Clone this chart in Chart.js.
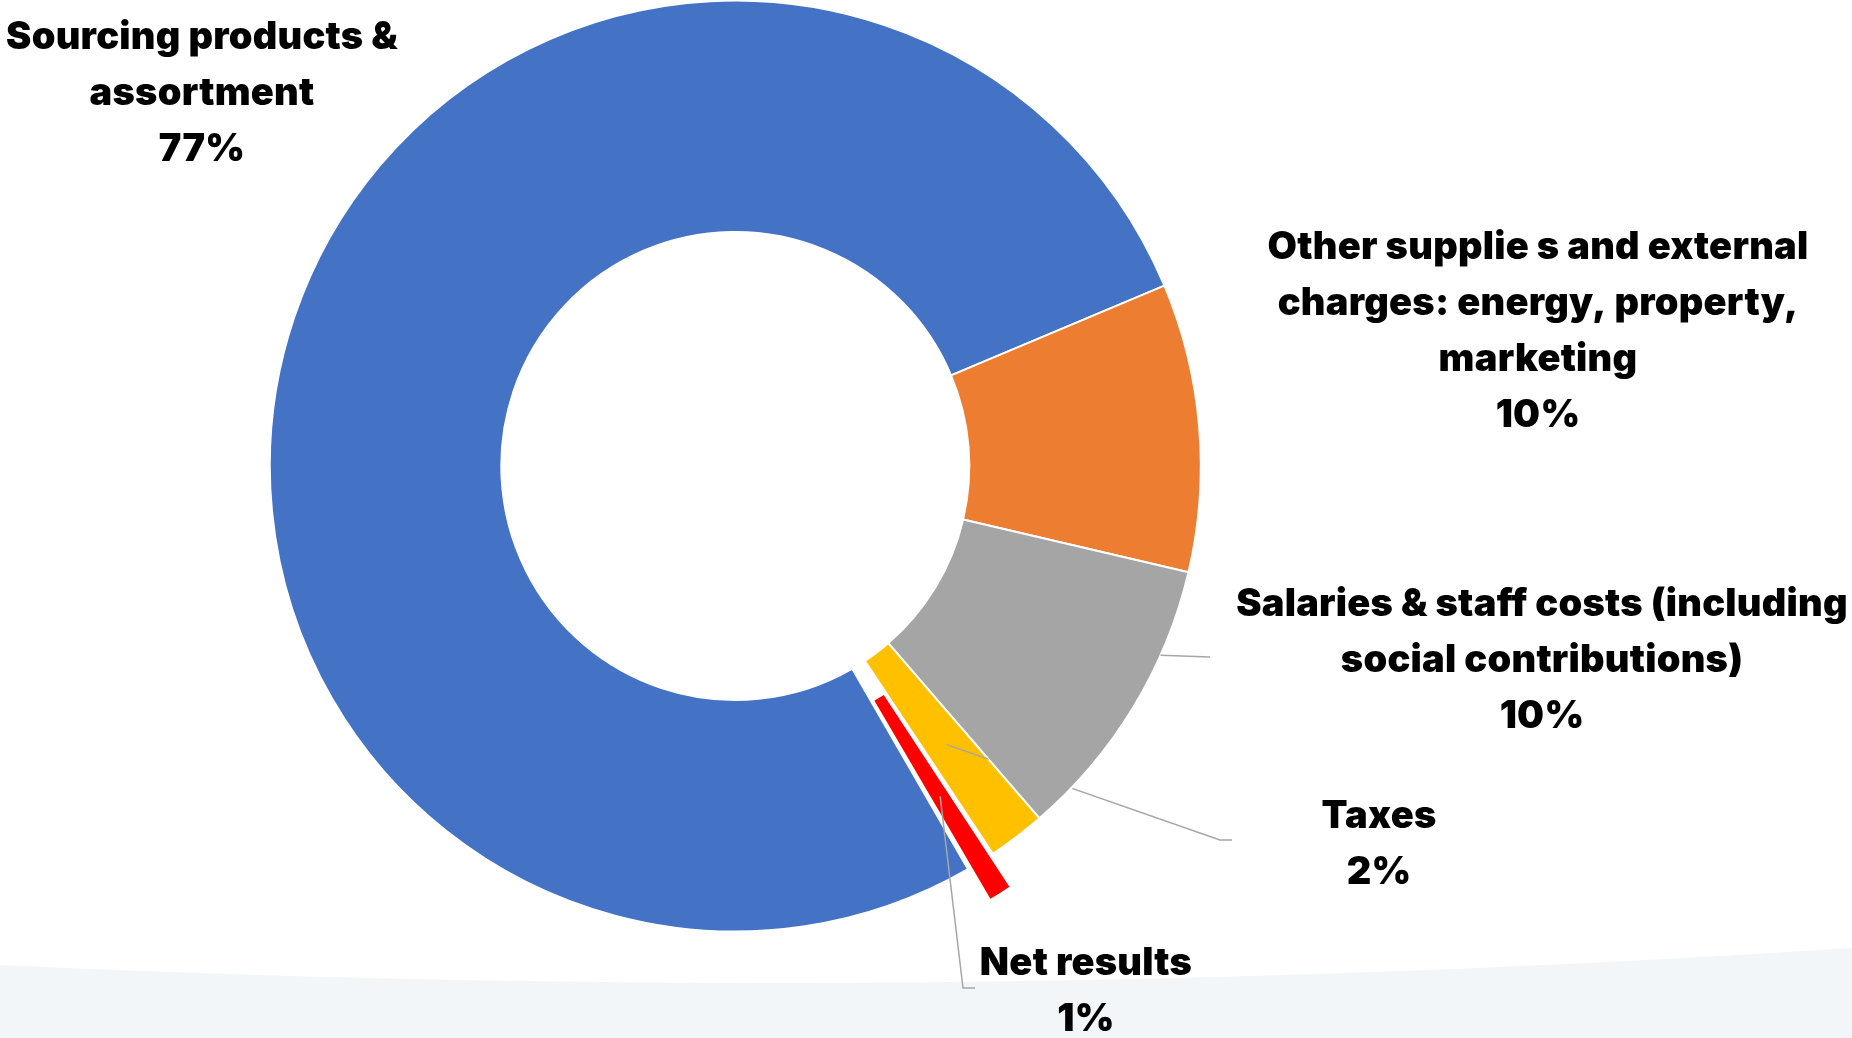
<!DOCTYPE html>
<html>
<head>
<meta charset="utf-8">
<script src="https://cdn.jsdelivr.net/npm/chart.js@4.4.1/dist/chart.umd.min.js"></script>
<style>
  html, body { margin: 0; padding: 0; background: #ffffff; overflow: hidden; }
  #wrap { position: relative; width: 1852px; height: 1038px; }
</style>
</head>
<body>
<div id="wrap"><canvas id="costs" width="1852" height="1038"></canvas></div>
<script>
// Cost breakdown: each category label is split into its display lines
const categories = [
  ['Sourcing products &', 'assortment'],
  ['Other supplie s and external', 'charges: energy, property,', 'marketing'],
  ['Salaries & staff costs (including', 'social contributions)'],
  ['Taxes'],
  ['Net results']
];
const shares = [77, 10, 10, 2, 1];           // percent of total
const sliceColors = ['#4472C4', '#ED7D31', '#A5A5A5', '#FFC000', '#FF0000'];

const LABEL_FONT = '900 38px Inter, "Open Sans", sans-serif';
const LINE_H = 56;

// where each label block sits (centre x, first baseline) and its leader line
const labelLayout = [
  { x: 202,  y: 49 },
  { x: 1538, y: 259 },
  { x: 1542, y: 616, leader: 'edge', frac: 0.3, path: [[1210, 657]] },
  { x: 1379, y: 828, leader: 'centre', hideUnder: 2, path: [[1220, 840], [1232, 840]] },
  { x: 1086, y: 975, leader: 'centre', path: [[963, 988], [975, 988]] }
];

// soft grey band along the bottom of the page
const backdrop = {
  id: 'backdrop',
  beforeDraw(chart) {
    const { ctx, width, height } = chart;
    ctx.save();
    ctx.fillStyle = '#ffffff';
    ctx.fillRect(0, 0, width, height);
    ctx.fillStyle = '#F3F6F8';
    ctx.beginPath();
    ctx.moveTo(0, 965);
    ctx.quadraticCurveTo(926, 1008, width, 948);
    ctx.lineTo(width, height);
    ctx.lineTo(0, height);
    ctx.closePath();
    ctx.fill();
    ctx.restore();
  }
};

function sectorPath(ctx, a) {
  const p = a.getProps(['x', 'y', 'startAngle', 'endAngle', 'innerRadius', 'outerRadius'], true);
  ctx.moveTo(p.x + Math.cos(p.startAngle) * p.outerRadius, p.y + Math.sin(p.startAngle) * p.outerRadius);
  ctx.arc(p.x, p.y, p.outerRadius + 1, p.startAngle, p.endAngle);
  ctx.arc(p.x, p.y, Math.max(p.innerRadius - 1, 0), p.endAngle, p.startAngle, true);
  ctx.closePath();
}

// category names, percentages and leader lines
const sliceLabels = {
  id: 'sliceLabels',
  afterDatasetsDraw(chart) {
    const { ctx } = chart;
    const meta = chart.getDatasetMeta(0);
    const values = chart.data.datasets[0].data;

    ctx.save();
    ctx.strokeStyle = '#A6A6A6';
    ctx.lineWidth = 1.5;
    labelLayout.forEach((lay, i) => {
      if (!lay.leader) return;
      const arc = meta.data[i];
      let start;
      if (lay.leader === 'centre') {
        start = arc.getCenterPoint(true);
      } else {
        const p = arc.getProps(['x', 'y', 'startAngle', 'endAngle', 'outerRadius'], true);
        const ang = p.startAngle + (p.endAngle - p.startAngle) * lay.frac;
        start = { x: p.x + Math.cos(ang) * p.outerRadius, y: p.y + Math.sin(ang) * p.outerRadius };
      }
      ctx.save();
      if (lay.hideUnder !== undefined) {
        // the leader passes behind the neighbouring slice
        ctx.beginPath();
        ctx.rect(0, 0, chart.width, chart.height);
        sectorPath(ctx, meta.data[lay.hideUnder]);
        ctx.clip('evenodd');
      }
      ctx.beginPath();
      ctx.moveTo(start.x, start.y);
      lay.path.forEach(([px, py]) => ctx.lineTo(px, py));
      ctx.stroke();
      ctx.restore();
    });

    ctx.fillStyle = '#000000';
    ctx.font = LABEL_FONT;
    ctx.letterSpacing = '0.25px';
    ctx.textAlign = 'center';
    ctx.textBaseline = 'alphabetic';
    labelLayout.forEach((lay, i) => {
      const lines = categories[i].concat([values[i] + '%']);
      lines.forEach((t, k) => ctx.fillText(t, lay.x, lay.y + k * LINE_H));
    });
    ctx.restore();
  }
};

new Chart(document.getElementById('costs'), {
  type: 'doughnut',
  data: {
    labels: categories.map(c => c.join(' ')),
    datasets: [{
      data: shares,
      backgroundColor: sliceColors,
      borderColor: '#ffffff',
      borderWidth: 2,
      offset: [0, 0, 0, 0, 78],
      hoverOffset: 0
    }]
  },
  options: {
    responsive: false,
    animation: false,
    rotation: 150,
    radius: 465.5,
    cutout: '50.27%',
    layout: { padding: { left: 0, top: 0, right: 381.4, bottom: 106 } },
    plugins: {
      legend: { display: false },
      tooltip: { enabled: false }
    },
    events: []
  },
  plugins: [backdrop, sliceLabels]
});
</script>
</body>
</html>
